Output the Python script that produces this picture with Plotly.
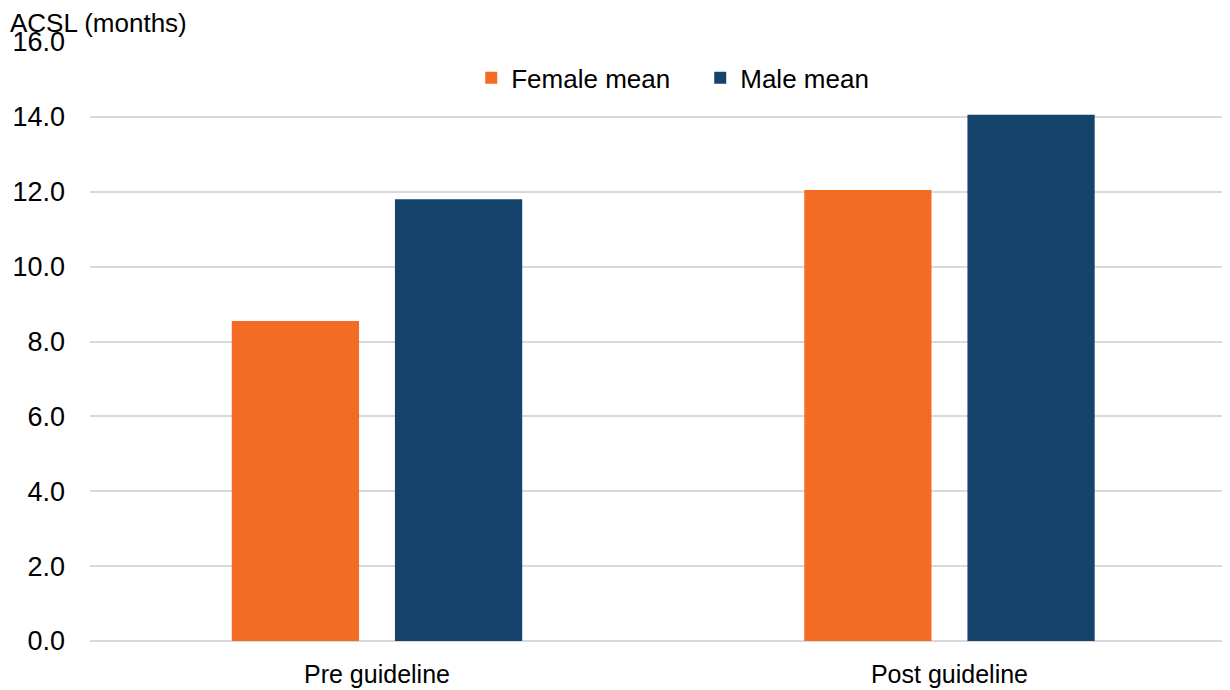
import plotly.graph_objects as go

categories = ["Pre guideline", "Post guideline"]
female_mean = [8.55, 12.05]
male_mean = [11.8, 14.06]
y_ticks = [0, 2, 4, 6, 8, 10, 12, 14, 16]
y_tick_labels = ["0.0", "2.0", "4.0", "6.0", "8.0", "10.0", "12.0", "14.0", "16.0"]

FONT = "Liberation Sans, Arial, sans-serif"
PLOT_W = 1140
L = 82

fig = go.Figure()
fig.add_trace(go.Bar(name="Female mean", x=categories, y=female_mean,
                     marker=dict(color="#F36B24", line=dict(width=0))))
fig.add_trace(go.Bar(name="Male mean", x=categories, y=male_mean,
                     marker=dict(color="#15436B", line=dict(width=0))))

fig.update_layout(
    width=1222, height=682,
    margin=dict(l=L, r=0, t=34, b=49),
    paper_bgcolor="white", plot_bgcolor="white",
    barmode="group", bargap=0.43, bargroupgap=0.22,
    font=dict(family=FONT, size=25, color="#000000"),
    showlegend=True,
    legend=dict(orientation="h", x=0.5353, xanchor="center", y=0.94, yanchor="middle",
                font=dict(size=26), itemwidth=30, traceorder="normal",
                entrywidth=184, bgcolor="rgba(0,0,0,0)"),
    xaxis=dict(type="category", range=[-0.5013, 1.49], showgrid=False,
               showline=False, zeroline=False, ticks="", ticklabelstandoff=16,
               tickfont=dict(size=25)),
    yaxis=dict(range=[0, 16], tickvals=y_ticks, ticktext=y_tick_labels,
               showgrid=True, gridcolor="#D9D9D9", gridwidth=1.5,
               zeroline=True, zerolinecolor="#D9D9D9", zerolinewidth=1.5,
               showline=False, ticks="", ticklabelstandoff=24,
               tickfont=dict(size=27)),
    annotations=[dict(text="ACSL (months)", xref="paper", yref="paper",
                      x=-L / PLOT_W, y=1 + 19/599, xanchor="left", yanchor="middle",
                      showarrow=False, font=dict(size=26))],
)

fig.write_html("out.html")
